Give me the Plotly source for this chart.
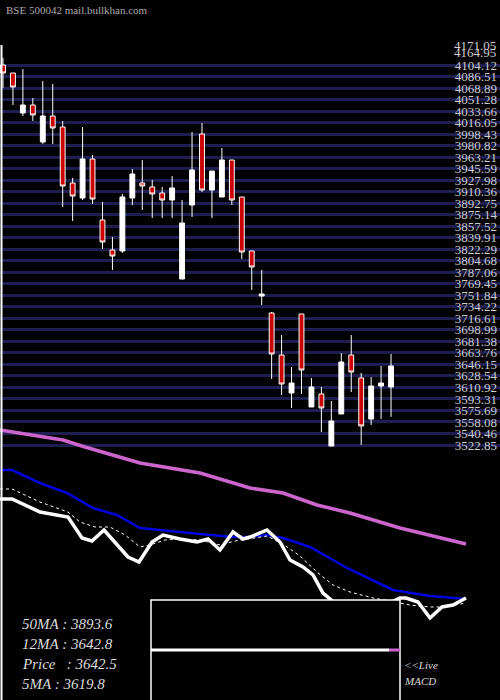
import plotly.graph_objects as go

# daily candles (oldest -> newest)
opens = [4104.2, 4092.0, 4030.8, 4043.0, 3986.4, 4026.2, 4009.4, 3923.7, 3900.8, 3960.4,
         3867.1, 3821.2, 3819.7, 3900.8, 3923.7, 3917.6, 3908.4, 3897.7, 3776.8, 3890.0,
         3998.7, 3913.0, 3902.3, 3958.9, 3902.3, 3819.7, 3750.8, 3724.8, 3660.5, 3602.4,
         3723.3, 3581.0, 3600.9, 3521.3, 3570.3, 3660.5, 3625.4, 3562.6, 3613.1, 3611.6]
highs = [4115.0, 4092.0, 4098.0, 4053.8, 4079.8, 4075.2, 4018.6, 3931.4, 4009.4, 3966.5,
         3894.6, 3841.1, 3906.9, 3945.1, 3958.9, 3928.3, 3917.6, 3934.4, 3897.7, 4001.7,
         4015.5, 3942.0, 3977.3, 3958.9, 3902.3, 3819.7, 3790.6, 3726.4, 3691.2, 3642.2,
         3723.3, 3625.4, 3611.6, 3590.2, 3663.6, 3691.2, 3633.0, 3626.8, 3643.7, 3662.1]
lows = [4069.0, 4043.0, 4026.2, 4018.6, 3983.4, 3983.4, 3887.0, 3865.6, 3897.7, 3891.6,
        3822.7, 3790.6, 3816.6, 3890.0, 3882.4, 3870.2, 3870.2, 3870.2, 3776.8, 3871.7,
        3910.0, 3870.2, 3902.3, 3890.0, 3807.4, 3760.0, 3737.0, 3623.8, 3599.4, 3579.5,
        3600.9, 3581.0, 3542.7, 3521.3, 3570.3, 3603.9, 3522.9, 3553.5, 3562.6, 3566.0]
closes = [4092.0, 4070.6, 4043.0, 4027.8, 4026.2, 4007.9, 3919.1, 3903.8, 3960.4, 3899.2,
          3833.4, 3812.0, 3902.3, 3937.5, 3919.1, 3906.9, 3897.7, 3916.1, 3862.5, 3943.6,
          3913.0, 3942.0, 3958.9, 3897.7, 3818.1, 3795.2, 3753.9, 3662.1, 3616.2, 3617.7,
          3637.6, 3611.6, 3579.5, 3559.6, 3649.8, 3634.5, 3552.0, 3613.1, 3617.7, 3643.7]
days = list(range(len(opens)))

price_levels = [3522.85, 3540.46, 3558.08, 3575.69, 3593.31, 3610.92, 3628.54, 3646.15,
                3663.76, 3681.38, 3698.99, 3716.61, 3734.22, 3751.84, 3769.45, 3787.06,
                3804.68, 3822.29, 3839.91, 3857.52, 3875.14, 3892.75, 3910.36, 3927.98,
                3945.59, 3963.21, 3980.82, 3998.43, 4016.05, 4033.66, 4051.28, 4068.89,
                4086.51, 4104.12]

ma50_x = [0, 63, 85, 140, 200, 250, 283, 317, 350, 400, 466]
ma50_y = [430, 440, 447, 463, 473, 488, 493, 505, 513, 528, 544]
ma12_x = [0, 12, 40, 67, 93, 117, 140, 167, 200, 233, 250, 267, 283, 310, 347, 393, 430, 466]
ma12_y = [470, 470, 483, 493, 508, 515, 528, 531, 534, 537, 537, 535, 538, 547, 568, 590, 596, 599]
px_x = [0, 12, 40, 60, 68, 82, 92, 104, 117, 128, 139, 152, 163, 180, 197, 208, 220, 233,
        243, 250, 267, 280, 290, 303, 313, 323, 335, 360, 385, 400, 406, 418, 430, 442, 453, 466]
px_y = [499, 499, 512, 515, 517, 538, 541, 530, 545, 557, 562, 542, 535, 539, 542, 539, 550, 532,
        539, 537, 530, 542, 560, 567, 575, 593, 603, 610, 605, 598, 598, 602, 618, 607, 605, 598]
ma5_x = [0, 12, 40, 55, 68, 80, 95, 110, 125, 140, 150, 165, 180, 200, 220, 235, 250, 267,
         283, 300, 317, 333, 350, 373, 395, 410, 430, 445, 466]
ma5_y = [489, 489, 502, 507, 512, 522, 527, 527, 535, 547, 545, 540, 539, 540, 545, 541, 539, 536,
         544, 556, 572, 585, 592, 598, 602, 605, 607, 607, 603]

stats = [("50MA", "3893.6"), ("12MA", "3642.8"), ("Price  ", "3642.5"), ("5MA", "3619.8")]

fig = go.Figure()

fig.add_trace(go.Candlestick(
    x=days, open=opens, high=highs, low=lows, close=closes,
    increasing=dict(fillcolor="white", line=dict(color="white", width=1)),
    decreasing=dict(fillcolor="#cc0000", line=dict(color="white", width=1)),
    whiskerwidth=0, showlegend=False, hoverinfo="skip"))

fig.add_trace(go.Scatter(x=ma50_x, y=ma50_y, xaxis="x2", yaxis="y2", mode="lines",
                         line=dict(color="#cc66cc", width=3.5), showlegend=False))
fig.add_trace(go.Scatter(x=ma12_x, y=ma12_y, xaxis="x2", yaxis="y2", mode="lines",
                         line=dict(color="#0000dd", width=2.5), showlegend=False))
fig.add_trace(go.Scatter(x=ma5_x, y=ma5_y, xaxis="x2", yaxis="y2", mode="lines",
                         line=dict(color="white", width=1, dash="dot"), showlegend=False))
fig.add_trace(go.Scatter(x=px_x, y=px_y, xaxis="x2", yaxis="y2", mode="lines",
                         line=dict(color="white", width=3.5), showlegend=False))

shapes = [
    dict(type="rect", xref="x2", yref="y2", x0=151, x1=400, y0=600, y1=702,
         fillcolor="black", line=dict(color="white", width=1.5)),
    dict(type="line", xref="x2", yref="y2", x0=151, x1=389, y0=650, y1=650,
         line=dict(color="white", width=3)),
    dict(type="line", xref="x2", yref="y2", x0=389, x1=400, y0=650, y1=650,
         line=dict(color="#cc66cc", width=3)),
    dict(type="line", xref="x2", yref="y2", x0=1.5, x1=1.5, y0=45, y1=700,
         line=dict(color="white", width=2)),
]

serif = "Liberation Serif, DejaVu Serif, serif"
annotations = [
    dict(x=4, y=10, xref="x2", yref="y2", text="BSE 500042 mail.bullkhan.com",
         showarrow=False, xanchor="left", font=dict(family=serif, size=11, color="#aaaaaa")),
    dict(x=498, y=45, xref="x2", yref="y2", text="4171.05", showarrow=False,
         xanchor="right", font=dict(family=serif, size=13, color="#cccccc")),
    dict(x=498, y=52, xref="x2", yref="y2", text="4164.95", showarrow=False,
         xanchor="right", font=dict(family=serif, size=13, color="#cccccc")),
    dict(x=402, y=665, xref="x2", yref="y2", text="<i>&lt;&lt;Live</i>", showarrow=False,
         xanchor="left", font=dict(family=serif, size=11, color="#dddddd")),
    dict(x=402, y=681, xref="x2", yref="y2", text="<i>MACD</i>", showarrow=False,
         xanchor="left", font=dict(family=serif, size=11, color="#dddddd")),
]
for i, (name, val) in enumerate(stats):
    annotations.append(dict(x=20, y=624 + 20 * i, xref="x2", yref="y2",
                            text="<i>%s : %s</i>" % (name, val), showarrow=False,
                            xanchor="left", font=dict(family=serif, size=15, color="#dddddd")))

fig.update_layout(
    width=500, height=700, margin=dict(l=0, r=0, t=0, b=0),
    paper_bgcolor="black", plot_bgcolor="black",
    xaxis=dict(range=[-0.3, 49.95], visible=False, rangeslider=dict(visible=False)),
    yaxis=dict(range=[3132.7, 4203.7], side="right", tickvals=price_levels,
               ticktext=["%.2f" % v for v in price_levels], ticklabelposition="inside",
               tickfont=dict(family=serif, size=13, color="#cccccc"),
               showgrid=True, gridcolor="#1e1e50", gridwidth=3, zeroline=False,
               showline=False, ticks=""),
    xaxis2=dict(range=[0, 500], overlaying="x", visible=False),
    yaxis2=dict(range=[700, 0], overlaying="y", visible=False),
    shapes=shapes, annotations=annotations,
)

fig.write_html("out.html", config={"displayModeBar": False},
               post_script="document.body.style.margin='0';")
